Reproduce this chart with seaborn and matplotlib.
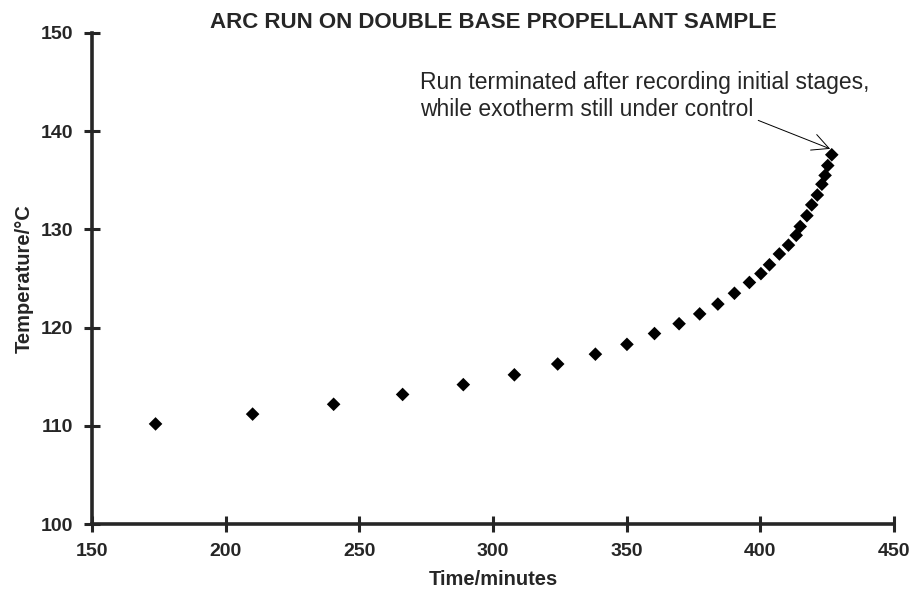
import matplotlib
matplotlib.use("Agg")
import matplotlib.pyplot as plt
import seaborn as sns
import pandas as pd

# ARC run readings (time in minutes, temperature in deg C)
time_min = [173.8, 210.1, 240.4, 266.2, 288.9, 308.0, 324.2, 338.3, 350.1, 360.4,
            369.6, 377.3, 384.1, 390.3, 395.9, 400.2, 403.4, 407.1, 410.5, 413.4,
            414.9, 417.4, 419.2, 421.3, 423.0, 424.2, 425.2, 426.7]
temp_c = [110.2, 111.2, 112.2, 113.2, 114.2, 115.2, 116.3, 117.3, 118.3, 119.4, 120.4,
          121.4, 122.4, 123.5, 124.6, 125.5, 126.4, 127.5, 128.4, 129.4, 130.3, 131.4,
          132.5, 133.5, 134.6, 135.5, 136.5, 137.6]
x_ticks = [150, 200, 250, 300, 350, 400, 450]
y_ticks = [100, 110, 120, 130, 140, 150]

title = "ARC RUN ON DOUBLE BASE PROPELLANT SAMPLE"
note = "Run terminated after recording initial stages,\nwhile exotherm still under control"

df = pd.DataFrame({"Time": time_min, "Temp": temp_c})

sns.set_style("ticks")
plt.rcParams["font.family"] = ["Liberation Sans", "DejaVu Sans"]

fig = plt.figure(figsize=(9.1, 5.99), dpi=100)
ax = fig.add_axes([0.101, 0.125, 0.8815, 0.82])

sns.scatterplot(data=df, x="Time", y="Temp", marker="D", s=48, color="black",
                edgecolor="none", ax=ax, legend=False)

ax.set_xlim(150, 450)
ax.set_ylim(100, 150)
ax.set_xticks(x_ticks)
ax.set_yticks(y_ticks)
ax.tick_params(direction="inout", length=11, width=2.2, labelsize=14, pad=8)
for lab in ax.get_xticklabels() + ax.get_yticklabels():
    lab.set_fontweight("bold")

sns.despine(ax=ax)
for side in ["left", "bottom"]:
    ax.spines[side].set_linewidth(2.6)
    ax.spines[side].set_zorder(0)

ax.set_xlabel("Time/minutes", fontsize=14.5, fontweight="bold", labelpad=7)
ax.set_ylabel("Temperature/°C", fontsize=14.5, fontweight="bold", labelpad=5)
ax.set_title(title, fontsize=16, fontweight="bold", pad=0, y=1.01)

ax.text(272.7, 143.6, note, fontsize=16.5, ha="left", va="center", linespacing=1.2)
ax.annotate("", xy=(426.1, 138.2), xytext=(399.2, 141.1),
            arrowprops=dict(arrowstyle="->", lw=0.7, color="black",
                            mutation_scale=30, shrinkA=0, shrinkB=0))

fig.savefig("out.png", dpi=100)
